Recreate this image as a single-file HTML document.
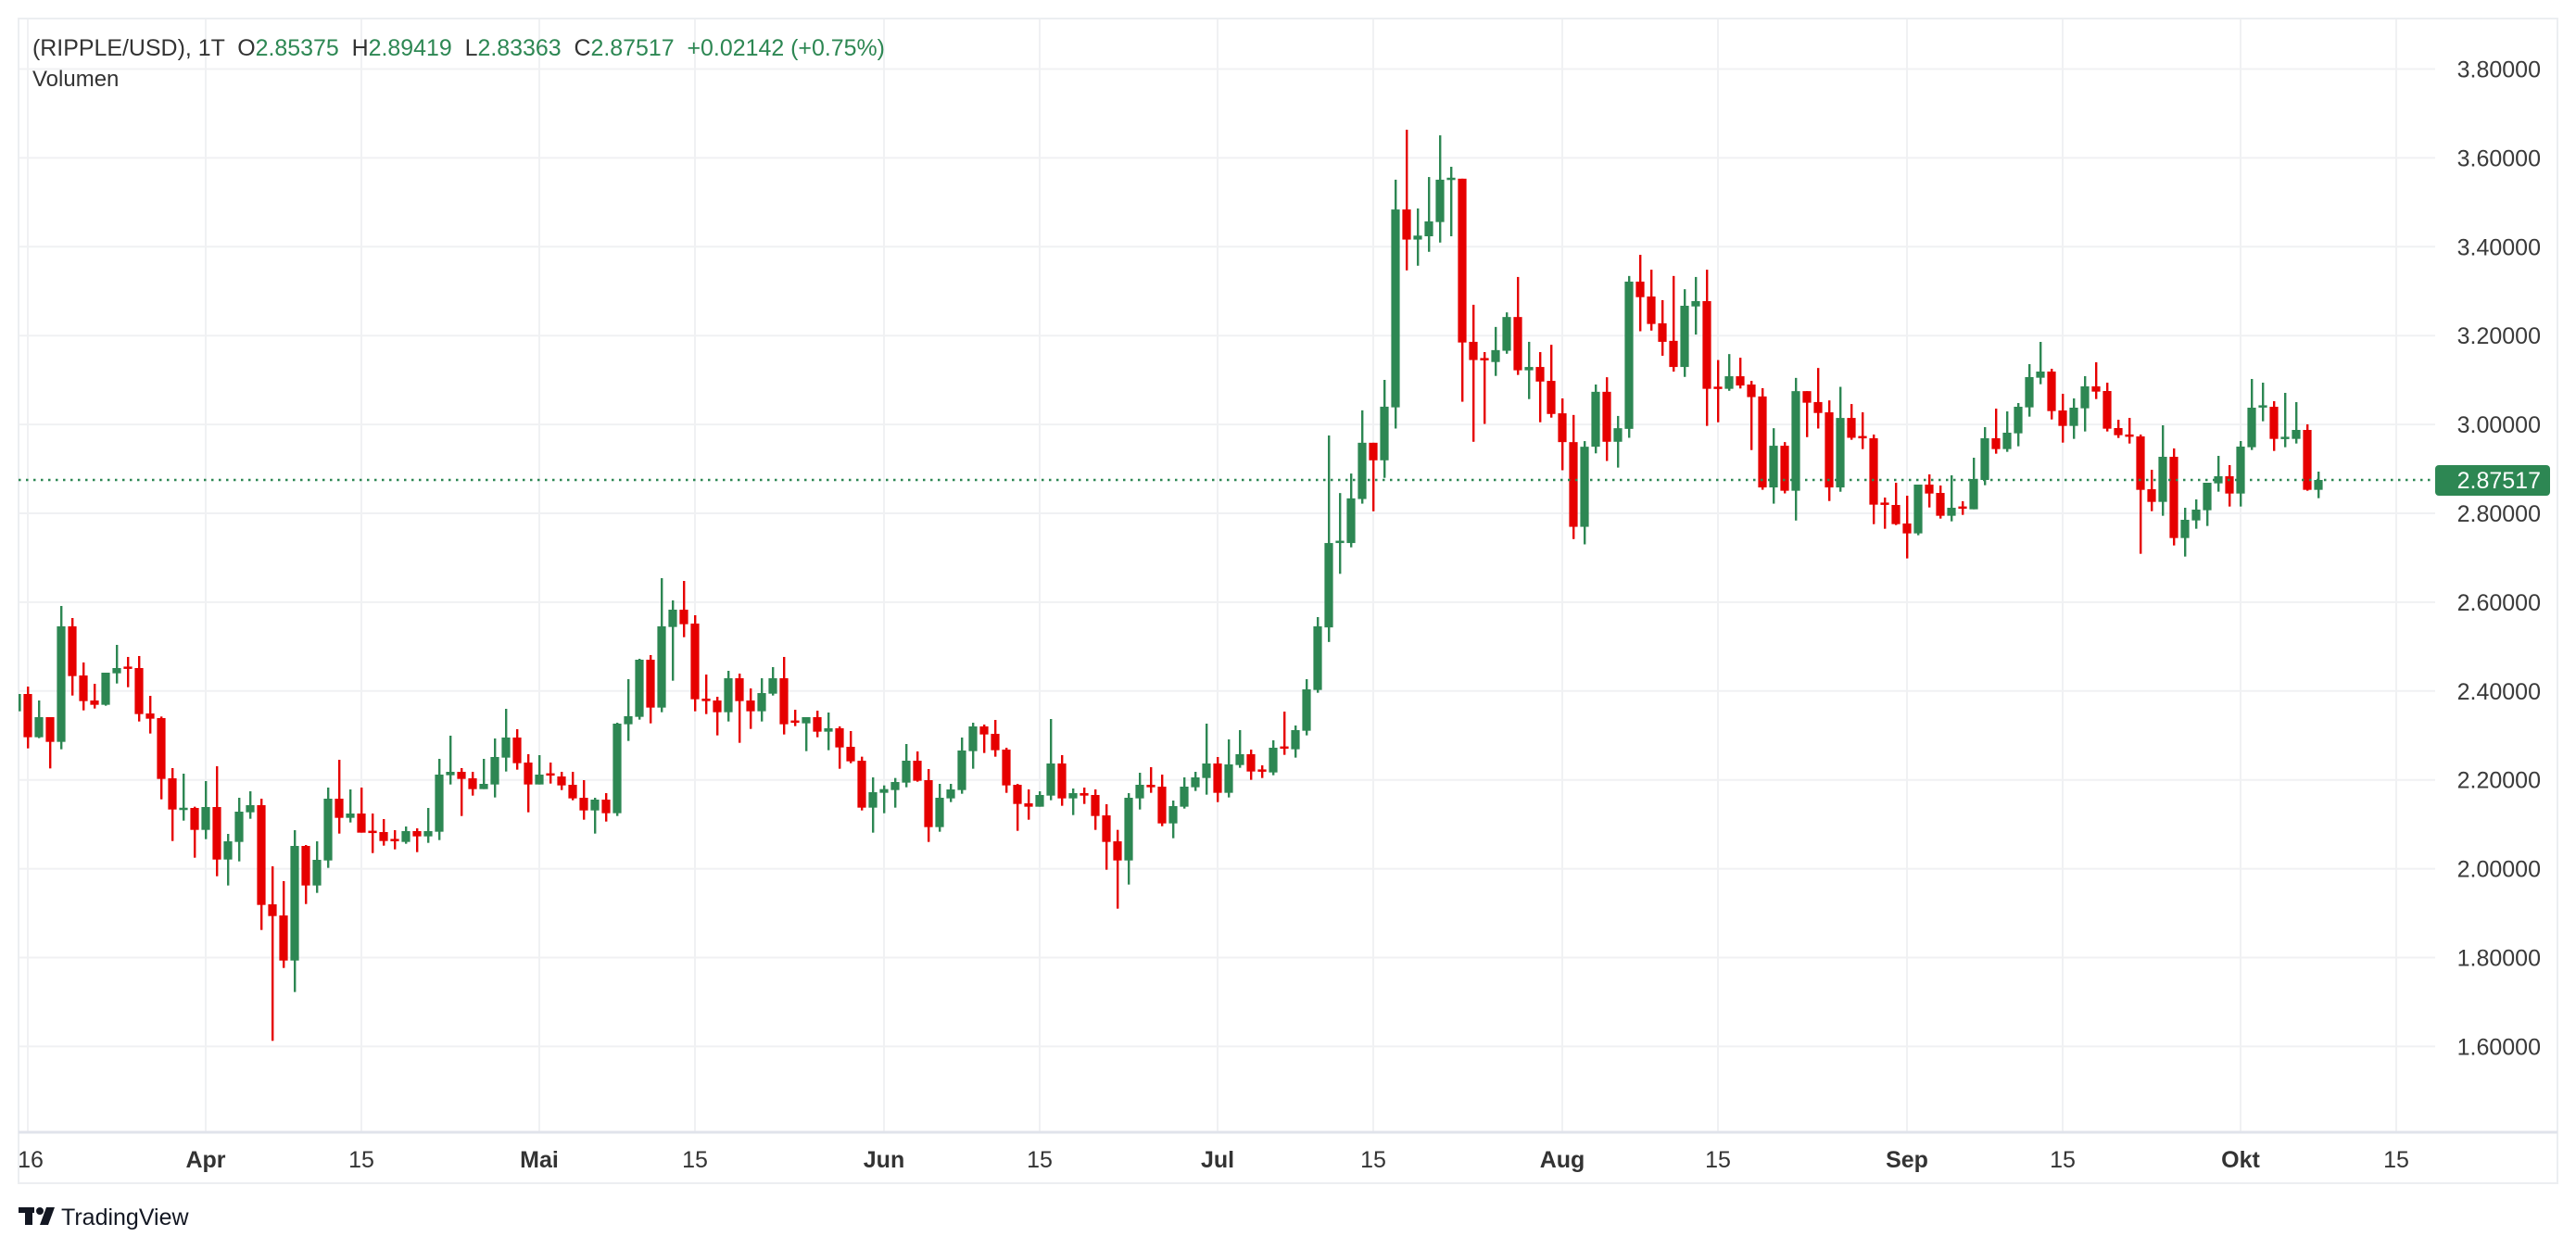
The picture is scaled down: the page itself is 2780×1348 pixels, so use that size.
<!DOCTYPE html>
<html><head><meta charset="utf-8"><style>
html,body{margin:0;padding:0;background:#fff;}
svg{display:block;}
text{font-family:"Liberation Sans",Arial,sans-serif;}
</style></head><body>
<svg id="s" width="2780" height="1348" viewBox="0 0 2780 1348" xmlns="http://www.w3.org/2000/svg">
<defs><clipPath id="cp"><rect x="20" y="21" width="2608" height="1200"/></clipPath></defs>
<rect width="2780" height="1348" fill="#fff"/>
<g id="grid" stroke="#f0f1f3" stroke-width="2"></g>
<rect x="20" y="20" width="2740" height="1257" fill="none" stroke="#eceef1" stroke-width="2"/>
<line x1="20" y1="1222" x2="2760" y2="1222" stroke="#e0e3eb" stroke-width="3"/>
<g id="candles" clip-path="url(#cp)"></g>
<line x1="20" y1="518" x2="2628" y2="518" stroke="#2d8753" stroke-width="2.5" stroke-dasharray="2.5,5.5"/>
<g id="plabels" font-size="25" fill="#3a3a3a"></g>
<rect x="2628" y="502" width="124" height="33" rx="4" fill="#2d8753"/>
<text x="2742" y="527" font-size="25" fill="#fff" text-anchor="end">2.87517</text>
<g id="tlabels" font-size="25" fill="#333"></g>
<text x="35" y="60" font-size="25" fill="#333" style="white-space:pre" textLength="920" lengthAdjust="spacingAndGlyphs">(RIPPLE/USD), 1T  O<tspan fill="#2d8753">2.85375</tspan>  H<tspan fill="#2d8753">2.89419</tspan>  L<tspan fill="#2d8753">2.83363</tspan>  C<tspan fill="#2d8753">2.87517</tspan>  <tspan fill="#2d8753">+0.02142 (+0.75%)</tspan></text>
<text x="35" y="93" font-size="24" fill="#333">Volumen</text>
<g fill="#131722">
<rect x="20" y="1303" width="17" height="6"/>
<rect x="27" y="1303" width="8" height="19"/>
<circle cx="43" cy="1307" r="4"/>
<polygon points="50,1303 59,1303 52,1322 43,1322"/>
</g>
<text x="66" y="1322" font-size="25" fill="#131722">TradingView</text>
</svg>
<script>
var NS="http://www.w3.org/2000/svg";
function el(p,t,a,txt){var e=document.createElementNS(NS,t);for(var k in a)e.setAttribute(k,a[k]);if(txt)e.textContent=txt;p.appendChild(e);return e;}
var grid=document.getElementById('grid');
function Y(p){return 74.5+(3.8-p)*479.5;}
var prices=["3.80000","3.60000","3.40000","3.20000","3.00000","2.80000","2.60000","2.40000","2.20000","2.00000","1.80000","1.60000"];
var pl=document.getElementById('plabels');
prices.forEach(function(s){var y=Y(parseFloat(s));el(grid,'line',{x1:20,y1:y,x2:2628,y2:y});
 if(Math.abs(y-518)>25) el(pl,'text',{x:2742,y:y+9,'text-anchor':'end'},s);});
var tl=document.getElementById('tlabels');
var ticks=[[30,"16",0],[222,"Apr",1],[390,"15",0],[582,"Mai",1],[750,"15",0],[954,"Jun",1],[1122,"15",0],[1314,"Jul",1],[1482,"15",0],[1686,"Aug",1],[1854,"15",0],[2058,"Sep",1],[2226,"15",0],[2418,"Okt",1],[2586,"15",0]];
ticks.forEach(function(t){el(grid,'line',{x1:t[0],y1:21,x2:t[0],y2:1221});
 var a={x:t[0]<40?33:t[0],y:1260,'text-anchor':'middle'};if(t[2])a['font-weight']='bold';el(tl,'text',a,t[1]);});
var A=[[1,380,387,443,446],[0,363,387,527,563],[1,408,462,527,530],[0,462,462,542,628],[1,102,168,542,566],[0,141,168,329,392],[0,285,327,410,440],[0,354,408,422,434],[1,318,318,422,425],[1,228,303,320,353],[0,267,300,304,365],[0,264,303,452,476],[0,393,450,467,515],[0,460,465,662,728],[0,627,660,761,863],[1,645,757,761,797],[0,752,756,827,917],[1,669,753,827,857],[0,621,753,923,977],[1,840,864,923,1007],[1,723,768,866,929],[1,702,747,770,791],[0,726,747,1070,1151],[0,945,1068,1106,1510],[0,993,1104,1250,1274],[1,828,879,1250,1352],[0,876,879,1007,1067],[1,864,924,1007,1031],[1,690,726,926,950],[0,600,726,788,839],[1,696,774,788,803],[0,690,774,836,836],[0,774,831,836,902],[0,792,834,863,878],[0,828,858,862,890],[1,816,831,866,872],[0,822,831,848,899],[1,756,831,848,869],[1,597,648,833,860],[1,522,639,650,680],[0,627,639,662,782],[0,639,660,695,716],[1,597,678,695,695],[1,531,591,680,722],[1,435,528,593,638],[0,501,528,611,632],[0,582,609,680,770],[1,585,648,680,680],[0,609,645,650,677],[0,639,654,683,698],[0,639,681,725,731],[0,666,723,764,794],[1,723,729,764,839],[0,708,729,773,800],[1,480,483,773,782],[1,339,459,485,539],[1,273,276,461,470]];
var B=[[0,321,336,491,542],[1,72,228,491,506],[1,144,174,230,404],[0,81,174,221,263],[0,192,219,464,503],[0,384,462,470,512],[0,456,468,506,581],[1,372,396,506,536],[0,381,396,470,605],[0,429,468,503,560],[1,396,444,503,536],[1,360,396,446,452],[0,327,396,545,578],[0,498,534,539,551],[1,522,522,542,632],[0,501,522,569,587],[1,507,558,569,629],[0,552,558,620,689],[0,567,618,665,671],[0,650,663,815,824],[1,717,765,815,896],[1,743,755,767,833],[1,719,732,758,815],[1,609,663,734,749],[0,633,663,728,731],[0,690,726,878,926],[1,738,783,878,893],[1,738,756,785,797],[1,588,630,758,770],[1,540,552,632,689],[0,546,552,578,638],[0,531,576,629,650],[0,621,627,743,767],[0,738,741,803,890],[0,756,801,812,854],[1,762,774,812,812],[1,528,672,776,791],[0,645,672,785,809],[1,753,768,785,839],[0,750,768,776,803],[0,756,774,842,887],[0,804,840,926,1016],[0,887,924,986,1142],[1,768,783,986,1064],[1,702,741,785,821],[0,684,741,749,767],[0,708,747,866,875],[1,792,810,866,914],[1,717,747,812,818],[1,699,717,749,761],[1,543,672,719,773],[0,651,672,767,797],[1,594,675,767,782],[1,564,642,677,686],[0,627,642,698,725],[0,678,692,698,719],[1,597,621,701,710]];
var E=[[0,624,739,742,764],[1,669,684,746,773],[1,519,552,686,701],[1,318,348,554,563]];
var C=[[1,980,1305,1560,1604],[1,1154,1300,1303,1398],[1,1095,1170,1305,1318],[1,904,1002,1172,1186],[0,1002,1002,1055,1209],[1,812,893,1055,1108],[1,207,297,895,959],[0,56,297,388,481],[1,294,376,388,467],[1,199,333,378,425],[1,73,207,335,397],[1,168,203,206,378],[0,204,204,699,878],[0,585,697,752,999],[0,728,748,751,945],[1,652,722,758,800],[1,608,622,724,733],[0,501,622,783,797],[1,697,773,783,870],[0,728,773,817,940],[0,706,815,915,926],[0,868,913,1000,1085],[0,918,1000,1256,1293],[1,997,1014,1256,1309],[1,826,848,1014,1034],[0,804,848,999,1057],[1,921,958,999,1077],[1,498,515,960,987],[0,434,515,562,665],[0,479,560,643,663],[0,571,641,697,739],[0,498,694,773,787],[1,538,588,773,803],[1,501,574,590,675],[0,479,574,839,951],[0,752,834,838,940],[1,734,801,839,845],[0,745,801,829,838],[0,815,826,864,1024],[0,837,862,1137,1144],[1,958,1011,1137,1186],[0,1000,1011,1147,1155],[1,806,846,1147,1237],[0,846,846,881,985],[0,776,879,912,959],[0,874,910,1137,1178],[1,833,927,1137,1150],[0,885,927,987,993]];
var D=[[0,315,394,397,434],[0,387,399,614,677],[0,591,609,613,692],[0,543,615,677,680],[0,585,675,707,788],[1,549,549,707,713],[0,516,549,578,623],[0,552,576,650,659],[1,519,624,650,668],[0,603,621,626,647],[1,462,531,629,629],[1,363,399,534,551],[0,303,399,434,449],[1,312,381,434,443],[1,285,297,383,425],[1,159,201,299,329],[1,87,183,203,224],[0,174,183,311,338],[0,255,309,359,413],[1,270,300,359,401],[1,198,231,302,377],[0,153,231,248,272],[0,219,246,368,377],[0,339,366,389,398],[0,333,387,394,416],[0,387,393,566,773],[0,501,564,605,635],[1,357,459,605,650],[0,432,459,722,746],[1,624,663,722,782],[1,597,630,665,692],[1,543,543,632,683],[1,456,522,545,572],[0,486,522,578,620],[1,408,426,578,620],[1,207,300,428,437],[1,219,294,298,344],[0,279,297,401,440],[1,252,396,400,428],[1,282,372,401,416],[0,354,372,566,569],[1,507,534,566,593]];
var cg=document.getElementById('candles');var idx=1;
function draw(arr,off,sc){arr.forEach(function(c){var x=222+(idx-18)*12;
 var col=c[0]?"#2d8753":"#e60000";
 var wt=off+c[1]/sc,bt=off+c[2]/sc,bb=off+c[3]/sc,wb=off+c[4]/sc;
 el(cg,'rect',{x:x-1,y:wt,width:2.4,height:Math.max(1,wb-wt),fill:col});
 var h=bb-bt;if(h<2.5){var m=(bt+bb)/2;bt=m-1.25;h=2.5;}
 el(cg,'rect',{x:x-4.6,y:bt,width:9.2,height:h,fill:col});idx++;});}
draw(A,620,3);draw(B,600,3);draw(E,560,3);draw(C,120,2.8);draw(D,340,3);
</script>
</body></html>
